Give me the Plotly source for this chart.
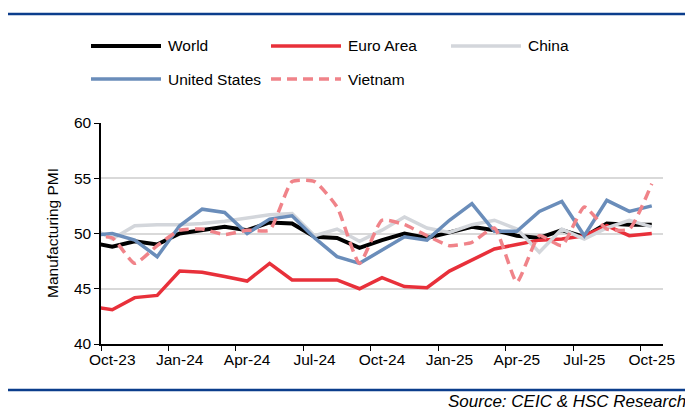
import plotly.graph_objects as go

# monthly PMI, Sep-23 .. Oct-25 (Sep-23 sits just left of the axis and gets clipped)
months = ["Sep-23", "Oct-23", "Nov-23", "Dec-23", "Jan-24", "Feb-24", "Mar-24", "Apr-24",
          "May-24", "Jun-24", "Jul-24", "Aug-24", "Sep-24", "Oct-24", "Nov-24", "Dec-24",
          "Jan-25", "Feb-25", "Mar-25", "Apr-25", "May-25", "Jun-25", "Jul-25", "Aug-25",
          "Sep-25", "Oct-25"]
world = [49.2, 48.8, 49.3, 49.0, 50.0, 50.3, 50.6, 50.3, 51.0, 50.9, 49.7, 49.6, 48.7,
         49.4, 50.0, 49.6, 50.1, 50.6, 50.3, 49.8, 49.6, 50.3, 49.7, 50.9, 50.8, 50.8]
euro_area = [43.4, 43.1, 44.2, 44.4, 46.6, 46.5, 46.1, 45.7, 47.3, 45.8, 45.8, 45.8, 45.0,
             46.0, 45.2, 45.1, 46.6, 47.6, 48.6, 49.0, 49.4, 49.5, 49.8, 50.7, 49.8, 50.0]
china = [50.6, 49.5, 50.7, 50.8, 50.8, 50.9, 51.1, 51.4, 51.7, 51.8, 49.8, 50.4, 49.3,
         50.3, 51.5, 50.5, 50.1, 50.8, 51.2, 50.4, 48.3, 50.4, 49.5, 50.5, 51.2, 50.6]
united_states = [49.8, 50.0, 49.4, 47.9, 50.7, 52.2, 51.9, 50.0, 51.3, 51.6, 49.6, 47.9, 47.3,
                 48.5, 49.7, 49.4, 51.2, 52.7, 50.2, 50.2, 52.0, 52.9, 49.8, 53.0, 52.0, 52.5]
vietnam = [49.7, 49.6, 47.3, 48.9, 50.3, 50.4, 49.9, 50.3, 50.3, 54.7, 54.7, 52.4, 47.3,
           51.2, 50.8, 49.8, 48.9, 49.2, 50.5, 45.6, 49.8, 48.9, 52.4, 50.4, 50.4, 54.5]

tick_labels = ["Oct-23", "Jan-24", "Apr-24", "Jul-24", "Oct-24", "Jan-25", "Apr-25", "Jul-25", "Oct-25"]

# category positions: Oct-23 = 0
x = [i - 1 for i in range(len(months))]

# the page body has an 8px margin, so everything is laid out 8px up/left
OFF = 8
W, H = 693 - OFF, 412 - OFF
L, R, T, B = 101, 663, 123, 344


def px_x(p):
    return (p - L) / (R - L)


def px_y(p):
    return (B - p) / (B - T)


FONT = "Liberation Sans, Arial, sans-serif"
FS = 15.5

series = [
    ("World", world, "#000000", 4, "solid", "linear"),
    ("Euro Area", euro_area, "#E8303A", 3.5, "solid", "linear"),
    ("China", china, "#D3D6DB", 3.5, "solid", "linear"),
    ("United States", united_states, "#6A8DBA", 3.5, "solid", "linear"),
    ("Vietnam", vietnam, "#F08389", 3.5, "10px,6px", "spline"),
]

fig = go.Figure()
for name, vals, color, width, dash, shape in series:
    fig.add_trace(go.Scatter(
        x=x, y=vals, mode="lines", name=name, showlegend=False,
        line=dict(color=color, width=width, dash=dash, shape=shape, smoothing=0.5),
    ))

fig.update_layout(
    width=W, height=H,
    margin=dict(l=L - OFF, r=693 - R, t=T - OFF, b=412 - B),
    plot_bgcolor="white", paper_bgcolor="white",
    font=dict(family=FONT, size=FS, color="#000000"),
    xaxis=dict(range=[-0.5, 24.5], tickvals=[i - 0.5 for i in range(0, 25, 3)],
               showticklabels=False, ticks="outside", ticklen=5, tickcolor="black",
               showline=True, linecolor="black", linewidth=1.5, showgrid=False, zeroline=False),
    xaxis2=dict(range=[-0.5, 24.5], overlaying="x", anchor="y", side="bottom",
                tickvals=list(range(0, 25, 3)), ticktext=tick_labels,
                ticks="outside", ticklen=1, tickcolor="rgba(0,0,0,0)",
                showline=False, showgrid=False, zeroline=False,
                tickfont=dict(size=FS)),
    yaxis=dict(range=[40, 60], dtick=5, ticks="outside", ticklen=5, tickcolor="black",
               showline=True, linecolor="black", linewidth=1.5,
               showgrid=True, gridcolor="#D9D9D9", gridwidth=2, zeroline=False,
               tickfont=dict(size=FS)),
)

# invisible trace to make xaxis2 render
fig.add_trace(go.Scatter(x=[0], y=[50], xaxis="x2", mode="lines", showlegend=False,
                         hoverinfo="skip", line=dict(color="rgba(0,0,0,0)")))

# axis title
fig.add_annotation(text="Manufacturing PMI", textangle=-90, x=px_x(52), y=px_y(233),
                   xref="paper", yref="paper", xanchor="center", yanchor="middle",
                   showarrow=False, font=dict(size=FS))

# top and bottom rules
for yy in (14, 390):
    fig.add_shape(type="line", xref="paper", yref="paper",
                  x0=px_x(8), x1=px_x(693), y0=px_y(yy), y1=px_y(yy),
                  line=dict(color="#0B3D8C", width=2.5))

fig.add_annotation(text="<i>Source: CEIC &amp; HSC Research</i>", x=px_x(688), y=px_y(401),
                   xref="paper", yref="paper", xanchor="right", yanchor="middle",
                   showarrow=False, font=dict(size=17))

# legend drawn by hand
legend_pos = [(91, 46), (271, 46), (451, 46), (91, 79), (271, 79)]
for (name, vals, color, width, dash, shape), (lx, ly) in zip(series, legend_pos):
    fig.add_shape(type="line", xref="paper", yref="paper",
                  x0=px_x(lx), x1=px_x(lx + 70), y0=px_y(ly), y1=px_y(ly),
                  line=dict(color=color, width=width, dash=dash))
    fig.add_annotation(text=name, x=px_x(lx + 75), y=px_y(ly), xref="paper", yref="paper",
                       xanchor="left", yanchor="middle", showarrow=False, font=dict(size=FS))

fig.write_html("out.html")
